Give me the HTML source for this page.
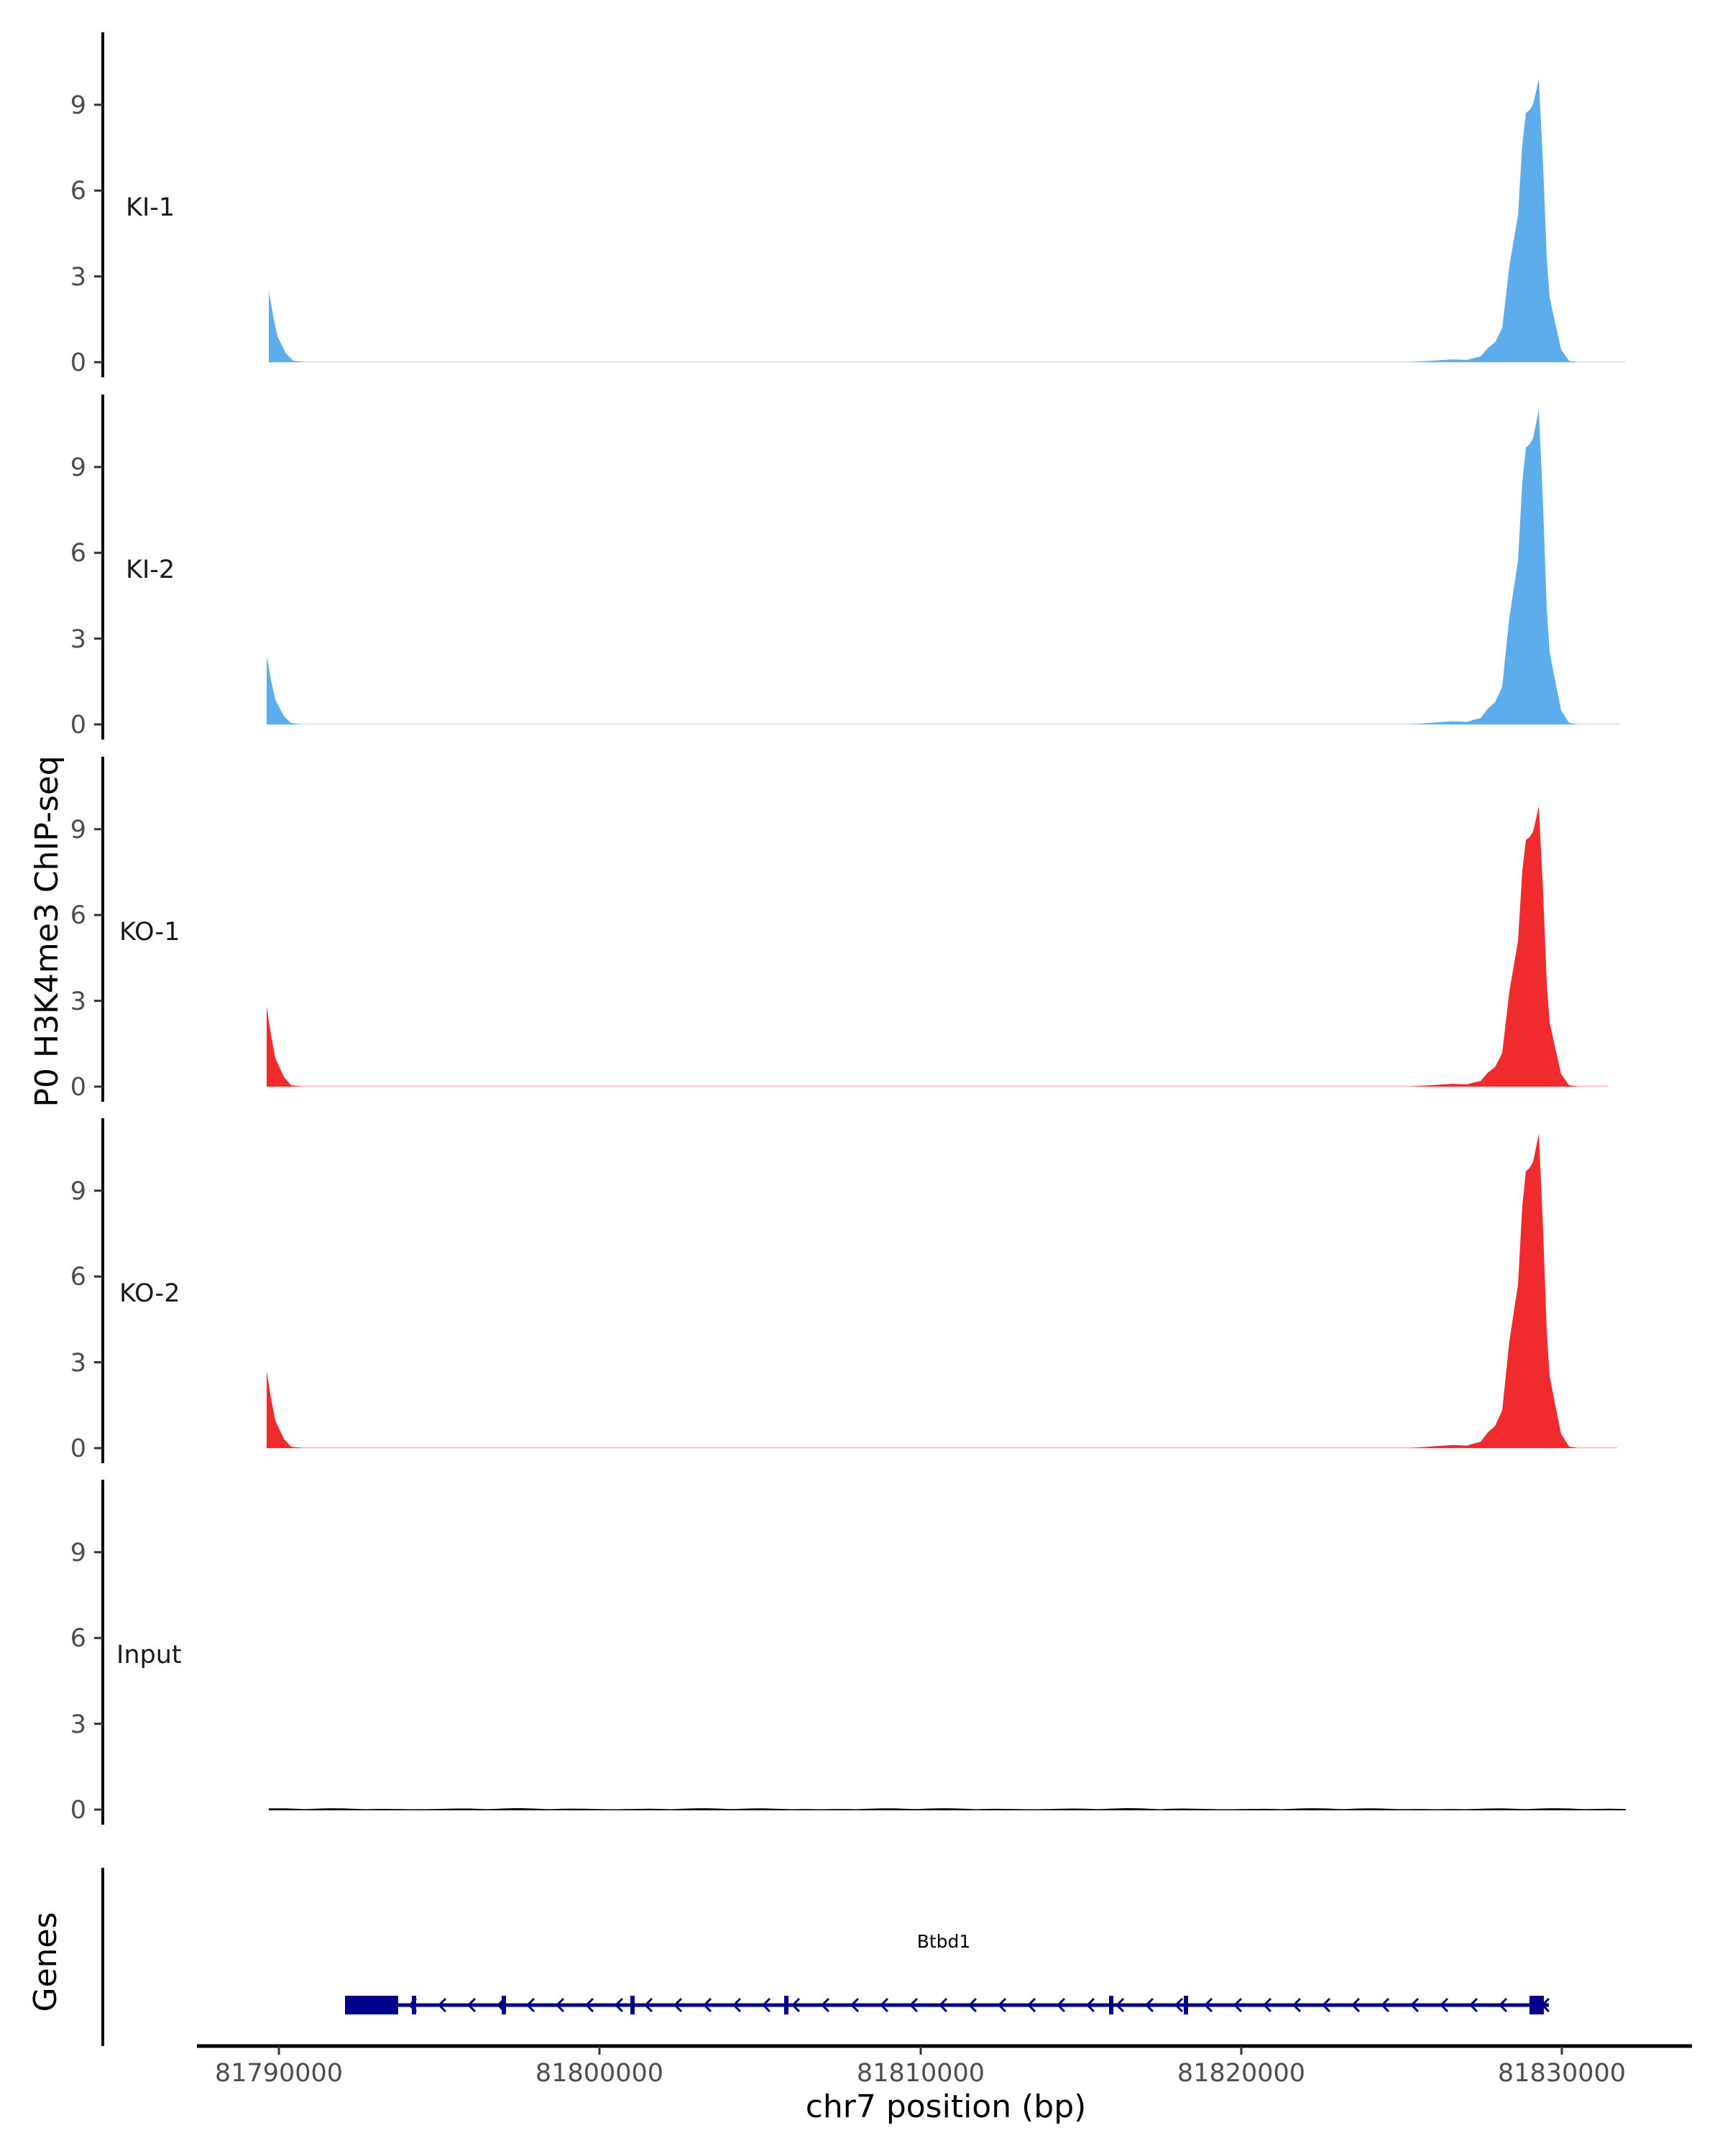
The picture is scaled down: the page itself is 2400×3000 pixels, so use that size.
<!DOCTYPE html>
<html><head><meta charset="utf-8"><style>
html,body{margin:0;padding:0;background:#fff}
svg{display:block}
text{font-family:"DejaVu Sans","Liberation Sans",sans-serif}
.tk{fill:#4d4d4d;font-size:35px;text-anchor:end}
.pl{fill:#1a1a1a;font-size:35px}
</style></head><body>
<svg id="s" width="2400" height="3000" viewBox="0 0 2400 3000" xmlns="http://www.w3.org/2000/svg">
<g id="g"></g>
<text x="0" y="0" transform="translate(80,1296) rotate(-90)" font-size="44" text-anchor="middle" fill="#000">P0 H3K4me3 ChIP-seq</text>
<text x="0" y="0" transform="translate(78,2730) rotate(-90)" font-size="44" text-anchor="middle" fill="#000">Genes</text>
<text x="1316" y="2946" font-size="44" text-anchor="middle" fill="#000">chr7 position (bp)</text>
<text x="1313" y="2710" font-size="25" text-anchor="middle" fill="#000">Btbd1</text>
<text class="pl" x="175" y="300">KI-1</text>
<text class="pl" x="175" y="804">KI-2</text>
<text class="pl" x="166" y="1308">KO-1</text>
<text class="pl" x="166" y="1811">KO-2</text>
<text class="pl" x="162" y="2314">Input</text>
<g class="tk">
<text x="120" y="158">9</text><text x="120" y="277">6</text><text x="120" y="397">3</text><text x="120" y="516">0</text>
<text x="120" y="662">9</text><text x="120" y="781">6</text><text x="120" y="901">3</text><text x="120" y="1020">0</text>
<text x="120" y="1166">9</text><text x="120" y="1285">6</text><text x="120" y="1405">3</text><text x="120" y="1524">0</text>
<text x="120" y="1669">9</text><text x="120" y="1788">6</text><text x="120" y="1908">3</text><text x="120" y="2027">0</text>
<text x="120" y="2172">9</text><text x="120" y="2291">6</text><text x="120" y="2411">3</text><text x="120" y="2530">0</text>
</g>
<g fill="#4d4d4d" font-size="35" text-anchor="middle">
<text x="388" y="2896">81790000</text><text x="834" y="2896">81800000</text><text x="1281" y="2896">81810000</text><text x="1727" y="2896">81820000</text><text x="2173" y="2896">81830000</text>
</g>
</svg>
<script>
var g=document.getElementById('g'),NS='http://www.w3.org/2000/svg';
function el(t,a){var e=document.createElementNS(NS,t);for(var k in a)e.setAttribute(k,a[k]);g.appendChild(e);return e;}
var zeros=[504,1008,1512,2015,2518],U=39.8;
var shape=[[-180,0],[-150,0.005],[-120,0.01],[-100,0.008],[-90,0.015],[-81,0.02],[-71,0.05],[-61,0.07],[-51,0.12],[-41,0.34],[-29,0.52],[-23,0.77],[-18,0.88],[-13,0.89],[-8,0.91],[0,1],[6,0.69],[11,0.37],[15,0.23],[22,0.147],[31,0.045],[42,0.005],[55,0]];
var cfg=[[374,2.5,9.9,'#5dadec',2262],[371,2.4,11.0,'#5dadec',2254],[371,2.8,9.8,'#ef2b2d',2237],[371,2.7,11.0,'#ef2b2d',2250]];
for(var i=0;i<5;i++){
 var z=zeros[i];
 el('line',{x1:143,y1:z-459,x2:143,y2:z+21,stroke:'#000','stroke-width':4});
 for(var j=0;j<4;j++){var y=z-j*3*U;el('line',{x1:131,y1:y,x2:143,y2:y,stroke:'#333','stroke-width':3});}
 if(i<4){var c=cfg[i],x0=c[0],d='M'+x0+','+z+' L'+x0+','+(z-c[1]*U);
  d+=' L'+(x0+6)+','+(z-c[1]*0.65*U)+' L'+(x0+12)+','+(z-c[1]*0.36*U)+' L'+(x0+24)+','+(z-c[1]*0.12*U)+' L'+(x0+34)+','+(z-0.05*U)+' L'+(x0+50)+','+z;
  var px=2141;for(var k=0;k<shape.length;k++){d+=' L'+(px+shape[k][0])+','+(z-shape[k][1]*c[2]*U).toFixed(1);}
  d+=' L'+c[4]+','+z+' Z';
  el('path',{d:d,fill:c[3]});
  el('line',{x1:x0,y1:z-0.5,x2:c[4],y2:z-0.5,stroke:c[3],'stroke-width':1.5,opacity:0.35});
 } else {
  var d='M374,'+z;for(var x=374;x<=2262;x+=8){var v=0.5+1.5*Math.abs(Math.sin(x*0.037)*Math.sin(x*0.011));d+=' L'+x+','+(z-v).toFixed(1);}
  d+=' L2262,'+(z+1)+' L374,'+(z+1)+' Z';el('path',{d:d,fill:'#000'});
 }
}
el('line',{x1:143,y1:2599,x2:143,y2:2847,stroke:'#000','stroke-width':4});
el('line',{x1:274,y1:2847,x2:2354,y2:2847,stroke:'#000','stroke-width':5});
[388,834,1281,1727,2173].forEach(function(x){el('line',{x1:x,y1:2847,x2:x,y2:2859,stroke:'#333','stroke-width':3});});
var N='#00008b',gy=2790;
el('line',{x1:480,y1:gy,x2:2155,y2:gy,stroke:N,'stroke-width':5});
el('rect',{x:480,y:gy-13,width:74,height:26,fill:N});
el('rect',{x:2128,y:gy-13,width:20,height:26,fill:N});
[576,701,880,1094,1546,1650].forEach(function(x){el('rect',{x:x-3,y:gy-13,width:6,height:26,fill:N});});
for(var x=570;x<2130;x+=41){el('polyline',{points:(x+9)+','+(gy-9)+' '+x+','+gy+' '+(x+9)+','+(gy+9),fill:'none',stroke:N,'stroke-width':3});}
el('polyline',{points:'2155,'+(gy-9)+' 2146,'+gy+' 2155,'+(gy+9),fill:'none',stroke:N,'stroke-width':3});
</script>
</body></html>
